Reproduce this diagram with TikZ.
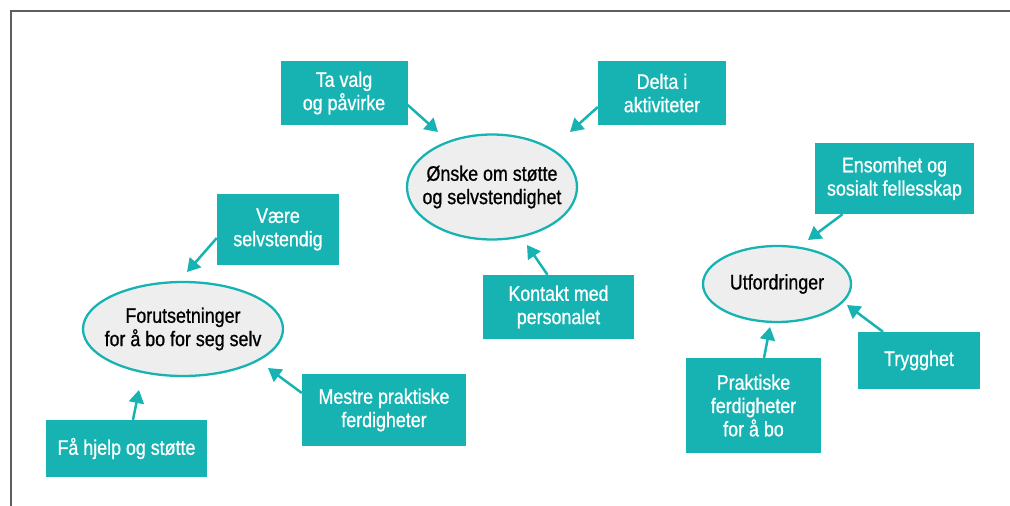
\documentclass[tikz,border=0pt]{standalone}
\usepackage{fontspec}
\setmainfont[FakeStretch=0.85,FakeBold=0.8]{Liberation Sans}
\usetikzlibrary{arrows.meta,calc,shapes.geometric}
\definecolor{teal1}{HTML}{17B3B3}
\definecolor{ellfill}{HTML}{EEEEEE}
\definecolor{framec}{HTML}{5E5E5E}
\tikzset{
  txt/.style={font=\fontsize{21}{23.3}\selectfont, align=center},
  box/.style={txt, fill=teal1, text=white, inner sep=0pt},
  ell/.style={ellipse, draw=teal1, line width=2.3pt, fill=ellfill, inner sep=0pt},
  ellabel/.style={label={[txt, text=black]center:#1}},
  arr/.style={draw=teal1, line width=2.5pt, -{Triangle[length=13pt,width=15pt]}, fill=teal1},
}
\begin{document}
\begin{tikzpicture}[x=1pt,y=-1pt]
\useasboundingbox (0,0) rectangle (1010,506);
\draw[framec, line width=1.6pt] (11,506) -- (11,11) -- (1010,11);

% ellipses
\node[ell, minimum width=170pt, minimum height=105pt, ellabel={Ønske om støtte\\og selvstendighet}] (on) at (492,187) {};
\node[ell, minimum width=200pt, minimum height=94pt, ellabel={Forutsetninger\\for å bo for seg selv}] (fo) at (183,329) {};
\node[ell, minimum width=148pt, minimum height=76pt, ellabel={Utfordringer}] (ut) at (777,284) {};

% boxes
\node[box, minimum width=127pt, minimum height=64pt] (tv) at (344,93) {Ta valg\\og påvirke};
\node[box, minimum width=128pt, minimum height=64pt] (dl) at (662,93) {Delta i\\aktiviteter};
\node[box, minimum width=122pt, minimum height=71pt] (vs) at (278,229.5) {Være\\selvstendig};
\node[box, minimum width=151pt, minimum height=64pt] (kp) at (558.5,307) {Kontakt med\\personalet};
\node[box, minimum width=159pt, minimum height=71pt] (en) at (894.5,178.5) {Ensomhet og\\sosialt fellesskap};
\node[box, minimum width=164pt, minimum height=72pt] (mp) at (384,410) {Mestre praktiske\\ferdigheter};
\node[box, minimum width=161pt, minimum height=57pt] (fh) at (126.5,448.5) {Få hjelp og støtte};
\node[box, minimum width=135pt, minimum height=95pt] (pf) at (753.5,405.5) {Praktiske\\ferdigheter\\for å bo};
\node[box, minimum width=122pt, minimum height=57pt] (tr) at (919,360.5) {Trygghet};

% arrows
\draw[arr] ([yshift=-12pt]tv.east) -- ([shift={(-54,-55)}]on.center);
\draw[arr] ([yshift=-14pt]dl.west) -- ([shift={(78,-55)}]on.center);
\draw[arr] ([xshift=-11pt]kp.north) -- ([shift={(35,58)}]on.center);
\draw[arr] ([yshift=-8.5pt]vs.west) -- ([shift={(4,-57)}]fo.center);
\draw[arr] ([yshift=17pt]mp.west) -- ([shift={(85,39)}]fo.center);
\draw[arr] ([xshift=6.5pt]fh.north) -- ([shift={(-44,61)}]fo.center);
\draw[arr] ([xshift=-52pt]en.south) -- ([shift={(31,-44)}]ut.center);
\draw[arr] ([xshift=10.5pt]pf.north) -- ([shift={(-7,43)}]ut.center);
\draw[arr] ([xshift=-36pt]tr.north) -- ([shift={(70,21)}]ut.center);
\end{tikzpicture}
\end{document}
